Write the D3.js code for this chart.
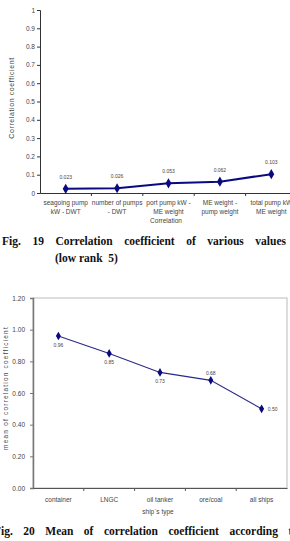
<!DOCTYPE html>
<html>
<head>
<meta charset="utf-8">
<script src="https://cdn.jsdelivr.net/npm/d3@7"></script>
<style>
  body { margin: 0; background: #fff; overflow: hidden; }
  svg { display: block; }
  .tick text { font-family: "Liberation Sans Narrow", "Arial Narrow", "Liberation Sans", sans-serif; fill: #444; }
  .small { font-family: "Liberation Sans Narrow", "Arial Narrow", "Liberation Sans", sans-serif; fill: #444; }
  .cap { font-family: "Liberation Serif", "DejaVu Serif", serif; font-weight: bold; font-size: 11.5px; fill: #111; }
</style>
</head>
<body>
<div id="chart"></div>
<script>
// fig 19 data
const corrNames = [
  ["seagoing pump", "kW - DWT"],
  ["number of pumps", "- DWT"],
  ["port pump kW -", "ME weight"],
  ["ME weight -", "pump weight"],
  ["total pump kW", "ME weight"]
];
const corrValues = [0.023, 0.026, 0.053, 0.062, 0.103];
const corrTicks = [0, 0.1, 0.2, 0.3, 0.4, 0.5, 0.6, 0.7, 0.8, 0.9, 1];

// fig 20 data
const shipTypes = ["container", "LNGC", "oil tanker", "ore/coal", "all ships"];
const shipMeans = [0.96, 0.85, 0.73, 0.68, 0.50];
const meanTicks = [0, 0.2, 0.4, 0.6, 0.8, 1.0, 1.2];

const W = 290, H = 541;
const svg = d3.select("#chart").append("svg").attr("width", W).attr("height", H);

function diamond(sel, size) {
    sel.attr("d", d3.symbol().type(d3.symbolDiamond).size(size)());
}

function justify(words, x0, x1, y) {
    let g = svg.append("g");
    let nodes = words.map(w => g.append("text").attr("class", "cap").attr("y", y).text(w));
    let widths = nodes.map(n => n.node().getComputedTextLength());
    let gap = (x1 - x0 - d3.sum(widths)) / (words.length - 1);
    let x = x0;
    nodes.forEach((n, i) => { n.attr("x", x); x += widths[i] + gap; });
}

// ---------- Fig 19 ----------
{
    let x = d3.scaleBand().domain(d3.range(corrValues.length)).range([40, 297]);
    let y = d3.scaleLinear().domain([0, 1]).range([193, 10]);
    let g = svg.append("g");

    let ya = g.append("g").attr("transform", "translate(40,0)")
        .call(d3.axisLeft(y).tickValues(corrTicks).tickSize(3).tickFormat(d3.format("")));
    ya.selectAll("text").style("font-size", "6.5px").attr("x", -5);
    ya.select(".domain").attr("stroke", "#333");
    ya.selectAll(".tick line").attr("stroke", "#333");

    let xa = g.append("g").attr("transform", "translate(0,193)")
        .call(d3.axisBottom(x).tickSize(0).tickFormat(""));
    xa.select(".domain").attr("stroke", "#333").attr("stroke-width", 1.2);
    // category separators
    g.selectAll(".sep").data(d3.range(1, corrValues.length)).enter().append("line")
        .attr("x1", d => x(d)).attr("x2", d => x(d))
        .attr("y1", 193).attr("y2", 196).attr("stroke", "#333");

    g.selectAll(".cat").data(corrNames).enter().append("text")
        .attr("class", "small").style("font-size", "6.5px").attr("text-anchor", "middle")
        .attr("x", (d, i) => x(i) + x.bandwidth() / 2)
        .attr("y", 205)
        .each(function (d) {
            d3.select(this).selectAll("tspan").data(d).enter().append("tspan")
                .attr("x", d3.select(this).attr("x"))
                .attr("dy", (t, j) => j ? 8.5 : 0).text(t => t);
        });

    g.append("text").attr("class", "small").style("font-size", "6.5px").attr("text-anchor", "middle")
        .attr("x", 166).attr("y", 223).text("Correlation");

    g.append("text").attr("class", "small").style("font-size", "7px").style("letter-spacing", "0.6px")
        .attr("text-anchor", "middle")
        .attr("transform", "translate(14,98) rotate(-90)").text("Correlation coefficient");

    let line = d3.line().x((d, i) => x(i) + x.bandwidth() / 2).y(d => y(d));
    g.append("path").datum(corrValues).attr("d", line)
        .attr("fill", "none").attr("stroke", "#0a0a80").attr("stroke-width", 2);
    g.selectAll(".pt").data(corrValues).enter().append("path")
        .call(diamond, 30).attr("fill", "#0a0a80")
        .attr("transform", (d, i) => "translate(" + (x(i) + x.bandwidth() / 2) + "," + y(d) + ")");
    g.selectAll(".lbl").data(corrValues).enter().append("text")
        .attr("class", "small").style("font-size", "5px").attr("text-anchor", "middle")
        .attr("x", (d, i) => x(i) + x.bandwidth() / 2).attr("y", d => y(d) - 10)
        .text(d => d3.format(".3f")(d));
}

justify(["Fig.", "19", "Correlation", "coefficient", "of", "various", "values"], 2, 286, 245);
svg.append("text").attr("class", "cap").attr("x", 55).attr("y", 262).text("(low rank  5)").style("white-space", "pre");

// ---------- Fig 20 ----------
{
    let x = d3.scaleBand().domain(d3.range(shipMeans.length)).range([33, 287]);
    let y = d3.scaleLinear().domain([0, 1.2]).range([488, 298]);
    let g = svg.append("g");

    // frame
    g.append("rect").attr("x", 33).attr("y", 298).attr("width", 254).attr("height", 190)
        .attr("fill", "none").attr("stroke", "#bbb").attr("stroke-width", 1);

    let ya = g.append("g").attr("transform", "translate(33,0)")
        .call(d3.axisLeft(y).tickValues(meanTicks).tickSize(3).tickFormat(d3.format(".2f")));
    ya.selectAll("text").style("font-size", "6.5px").attr("x", -8);
    ya.select(".domain").attr("stroke", "#777").attr("stroke-width", 1.5);
    ya.selectAll(".tick line").attr("stroke", "#777");

    let xa = g.append("g").attr("transform", "translate(0,488)")
        .call(d3.axisBottom(x).tickSize(0).tickFormat(""));
    xa.select(".domain").attr("stroke", "#555").attr("stroke-width", 1.2);
    g.selectAll(".sep").data(d3.range(1, shipMeans.length)).enter().append("line")
        .attr("x1", d => x(d)).attr("x2", d => x(d))
        .attr("y1", 488).attr("y2", 491).attr("stroke", "#555");

    g.selectAll(".cat").data(shipTypes).enter().append("text")
        .attr("class", "small").style("font-size", "6.5px").attr("text-anchor", "middle")
        .attr("x", (d, i) => x(i) + x.bandwidth() / 2).attr("y", 502).text(d => d);

    g.append("text").attr("class", "small").style("font-size", "6.5px").attr("text-anchor", "middle")
        .attr("x", 158).attr("y", 514).text("ship`s type");

    g.append("text").attr("class", "small").style("font-size", "6.5px").style("letter-spacing", "1.2px")
        .attr("text-anchor", "middle")
        .attr("transform", "translate(8,388) rotate(-90)").text("mean of correlation coefficient");

    let cx = i => x(i) + x.bandwidth() / 2;
    let line = d3.line().x((d, i) => cx(i)).y(d => y(d));
    g.append("path").datum(shipMeans).attr("d", line)
        .attr("fill", "none").attr("stroke", "#2a2a8a").attr("stroke-width", 1.1);
    g.selectAll(".pt").data(shipMeans).enter().append("path")
        .call(diamond, 22).attr("fill", "#0a0a80")
        .attr("transform", (d, i) => "translate(" + cx(i) + "," + y(d) + ")");

    // label placement: below, below, below, above, right
    let offs = [[0, 11], [0, 11], [0, 11], [0, -5], [11, 2]];
    g.selectAll(".lbl").data(shipMeans).enter().append("text")
        .attr("class", "small").style("font-size", "5px")
        .attr("text-anchor", (d, i) => offs[i][0] ? "middle" : "middle")
        .attr("x", (d, i) => cx(i) + offs[i][0]).attr("y", (d, i) => y(d) + offs[i][1])
        .text(d => d3.format(".2f")(d));
}

justify(["Fig.", "20", "Mean", "of", "correlation", "coefficient", "according", "to"], -6, 298, 535);
</script>
</body>
</html>
